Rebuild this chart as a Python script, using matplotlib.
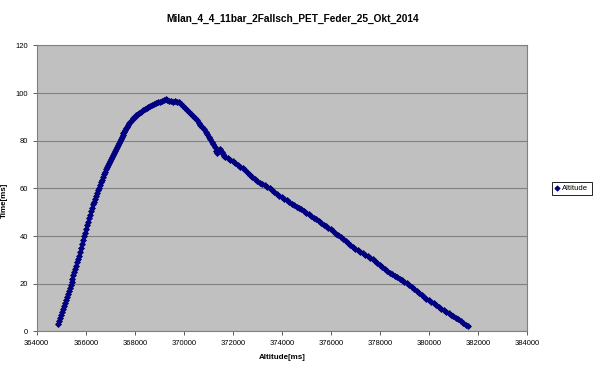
import matplotlib
matplotlib.use("Agg")
import matplotlib.pyplot as plt

plt.rcParams['font.family'] = ['Liberation Sans', 'DejaVu Sans']

title = "Milan_4_4_11bar_2Fallsch_PET_Feder_25_Okt_2014"
series_name = "Altitude"

# values: (x, y) pairs
rise_x = [364860, 364900, 364940, 364980, 365020, 365060, 365100, 365140, 365180, 365220,
          365260, 365300, 365340, 365380, 365420, 365460, 365500, 365540, 365580, 365620,
          365660, 365700, 365740, 365780, 365820, 365860, 365900, 365940, 365980, 366020,
          366060, 366100, 366140, 366180, 366220, 366260, 366300, 366340, 366380, 366420,
          366460, 366500, 366540, 366580, 366620, 366660, 366700, 366740, 366780, 366820,
          366860, 366900, 366940, 366980, 367020, 367060, 367100, 367140, 367180, 367220,
          367260, 367300, 367340, 367380, 367420, 367460, 367500, 367540, 367580, 367620,
          367660, 367700, 367740, 367780, 367820, 367880, 367940, 368000, 368060, 368120,
          368180, 368240, 368320, 368400, 368480, 368560, 368640, 368720, 368800, 368880,
          368960, 369040, 369120, 369200, 369260]
rise_y = [3.0, 4.3, 5.5, 6.8, 8.2, 9.5, 10.8, 12.1, 13.4, 14.6,
          15.9, 17.1, 18.2, 19.4, 20.7, 22.1, 23.5, 24.9, 26.2, 27.6,
          29.0, 30.4, 31.8, 33.2, 35.0, 36.8, 38.4, 40.0, 41.4, 43.0,
          44.5, 46.0, 47.5, 49.0, 50.5, 52.0, 53.4, 54.4, 55.6, 56.8,
          58.0, 59.2, 60.3, 61.5, 62.6, 63.6, 64.8, 65.9, 67.0, 68.0,
          69.1, 70.0, 70.8, 71.6, 72.5, 73.3, 74.1, 74.9, 75.7, 76.5,
          77.3, 78.2, 79.0, 79.8, 80.6, 81.4, 82.3, 83.1, 83.8, 84.5,
          85.2, 85.9, 86.7, 87.4, 88.1, 88.8, 89.5, 90.1, 90.7, 91.3,
          91.8, 92.3, 92.8, 93.3, 93.8, 94.2, 94.6, 95.0, 95.4, 95.7,
          96.1, 96.4, 96.9, 97.3, 97.6]

top_x = [369320, 369400, 369480, 369560, 369640, 369720, 369800, 369880, 369960, 370040,
         370120, 370200, 370280, 370360, 370440, 370520, 370600, 370680, 370760, 370840,
         370900, 370960, 371020, 371080, 371140, 371200, 371260, 371320, 371360, 371420,
         371480, 371540, 371600, 371660]
top_y = [97.0, 96.6, 96.9, 96.3, 96.7, 96.2, 96.5, 95.6, 94.7, 93.8,
         93.0, 92.1, 91.3, 90.5, 89.6, 88.6, 87.6, 86.7, 85.7, 84.8,
         83.8, 82.9, 81.8, 80.8, 79.7, 78.5, 77.2, 75.8, 74.8, 75.6,
         76.6, 75.2, 74.3, 73.7]

fall_x = [371700, 371800, 371900, 372000, 372100, 372200, 372300, 372400, 372500, 372600,
          372700, 372800, 372900, 373000, 373100, 373200, 373300, 373400, 373500, 373600,
          373700, 373800, 373900, 374000, 374100, 374200, 374300, 374400, 374500, 374600,
          374700, 374800, 374900, 375000, 375100, 375200, 375300, 375400, 375500, 375600,
          375700, 375800, 375900, 376000, 376100, 376200, 376300, 376400, 376500, 376600,
          376700, 376800, 376900, 377000, 377100, 377200, 377300, 377400, 377500, 377600,
          377700, 377800, 377900, 378000, 378100, 378200, 378300, 378400, 378500, 378600,
          378700, 378800, 378900, 379000, 379100, 379200, 379300, 379400, 379500, 379600,
          379700, 379800, 379900, 380000, 380100, 380200, 380300, 380400, 380500, 380600,
          380700, 380800, 380900, 381000, 381100, 381200, 381300, 381400, 381500, 381600]
fall_y = [73.4, 72.6, 72.0, 71.4, 70.6, 70.0, 69.1, 68.4, 67.7, 66.6,
          65.5, 64.9, 64.0, 63.2, 62.4, 61.8, 61.3, 60.6, 60.0, 59.2,
          58.6, 57.7, 57.0, 56.3, 55.7, 55.0, 54.3, 53.6, 53.0, 52.4,
          52.0, 51.4, 50.6, 49.8, 49.2, 48.4, 47.6, 47.1, 46.4, 45.6,
          44.8, 44.1, 43.4, 42.8, 42.0, 41.1, 40.3, 39.5, 38.6, 38.1,
          37.2, 36.3, 35.6, 34.8, 34.1, 33.5, 32.8, 32.2, 31.5, 30.9,
          30.3, 29.6, 28.8, 28.0, 27.1, 26.3, 25.4, 24.7, 24.1, 23.4,
          22.8, 22.1, 21.5, 20.9, 20.3, 19.5, 18.7, 17.9, 17.0, 16.2,
          15.4, 14.6, 13.8, 13.2, 12.5, 11.8, 11.0, 10.3, 9.6, 9.0,
          8.3, 7.6, 6.9, 6.3, 5.8, 5.1, 4.2, 3.5, 2.7, 2.2]

xs = rise_x + top_x + fall_x
ys = rise_y + top_y + fall_y

fig = plt.figure(figsize=(5.93, 3.72), dpi=100)
ax = fig.add_axes([0.0619, 0.1089, 0.8268, 0.7688])
ax.set_facecolor('#C0C0C0')

ax.plot(xs, ys, linestyle='none', marker='D', markersize=3.0, markeredgewidth=0.6,
        color='#000080', label=series_name)

ax.set_xlim(364000, 384000)
ax.set_ylim(0, 120)
ax.set_xticks(range(364000, 384001, 2000))
ax.set_yticks(range(0, 121, 20))
ax.grid(axis='y', color='#808080', linewidth=0.8)
ax.set_axisbelow(True)
for sp in ax.spines.values():
    sp.set_color('#808080')
    sp.set_linewidth(0.8)
ax.tick_params(labelsize=5.5, length=3, width=0.6, color='#404040', pad=3)

ax.set_xlabel("Altitude[ms]", fontsize=5.8, fontweight='bold', labelpad=5)
ax.set_ylabel("Time[ms]", fontsize=5.8, fontweight='bold')
ax.yaxis.set_label_coords(-0.058, 0.46)

fig.text(0.494, 0.949, title, ha='center', va='center', fontsize=7.3, fontweight='bold')

leg = fig.legend(loc='center left', bbox_to_anchor=(0.924, 0.493), fontsize=5.5,
                 frameon=True, fancybox=False, edgecolor='black', framealpha=1,
                 handlelength=0.6, handletextpad=0.4, borderpad=0.4, markerscale=0.9)
leg.get_frame().set_linewidth(0.6)

fig.savefig("out.png", dpi=100)
